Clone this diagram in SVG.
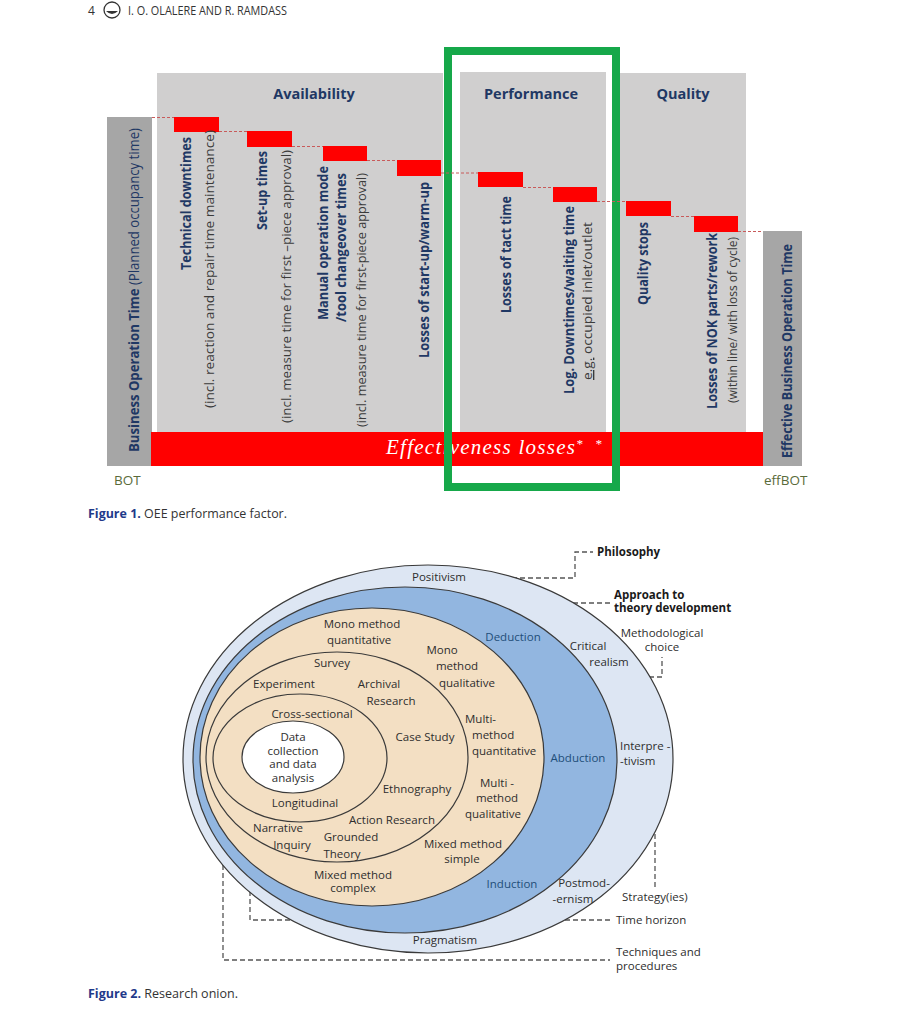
<svg xmlns="http://www.w3.org/2000/svg" width="914" height="1024" viewBox="0 0 914 1024">
<style>
text{font-family:"Open Sans","Liberation Sans",sans-serif;}
.serif{font-family:"Liberation Serif","DejaVu Serif",serif;font-style:italic;fill:#fff;}
.hd{font-size:14.5px;font-weight:700;fill:#1f3864;text-anchor:middle;}
.rb{font-size:14.5px;font-weight:700;fill:#1f3864;}
.rr{font-size:13.5px;fill:#3b3b3b;}
.red{fill:#ff0000;}
.gp{fill:#d0cfcf;}
.gb{fill:#a6a6a6;}
.rdash{fill:none;stroke:#c85a5a;stroke-width:1;stroke-dasharray:3 2;}
.odash{fill:none;stroke:#555;stroke-width:1.3;stroke-dasharray:5 3;}
.on{font-size:11.5px;fill:#2e2e2e;text-anchor:middle;}
.os{font-size:11.5px;fill:#2e2e2e;}
.ob{font-size:11.5px;fill:#1f4e79;text-anchor:middle;}
.obold{font-size:11.5px;fill:#1a1a1a;font-weight:700;}
.ell{stroke:#3a3a3a;stroke-width:1.2;}
.cap{font-size:13px;fill:#333;}
.capb{font-weight:700;fill:#1f3a8a;}
.bot{font-size:13.5px;fill:#5a6b3a;}
</style>

<g id="page-header">
  <text x="88" y="15" font-size="12" fill="#333">4</text>
  <circle cx="112" cy="10" r="8" fill="none" stroke="#333" stroke-width="1.3"/>
  <path d="M106,11 Q112,17 118,11 Z" fill="#333"/>
  <text x="128" y="15" font-size="12" fill="#333" textLength="159" lengthAdjust="spacingAndGlyphs">I. O. OLALERE AND R. RAMDASS</text>
</g>

<g id="figure1">
  <g id="panels">
    <rect class="gp" x="157" y="73" width="286" height="360"/>
    <rect class="gp" x="460" y="72" width="146" height="361"/>
    <rect class="gp" x="620" y="73" width="126" height="360"/>
    <text class="hd" x="314" y="99">Availability</text>
    <text class="hd" x="531" y="99">Performance</text>
    <text class="hd" x="683" y="99">Quality</text>
  </g>
  <g id="bot-bar">
    <rect class="gb" x="107" y="117" width="45" height="349"/>
    <text transform="translate(139,452) rotate(-90)" font-size="14" fill="#1f3864" textLength="324" lengthAdjust="spacingAndGlyphs"><tspan font-weight="700">Business Operation Time</tspan> (Planned occupancy time)</text>
    <text class="bot" x="114" y="485">BOT</text>
  </g>
  <g id="effbot-bar">
    <rect class="gb" x="763" y="231" width="39" height="235"/>
    <text class="rb" transform="translate(792,458) rotate(-90)" font-size="14" textLength="214" lengthAdjust="spacingAndGlyphs">Effective Business Operation Time</text>
    <text class="bot" x="764" y="485">effBOT</text>
  </g>
  <g id="effectiveness-losses">
    <rect class="red" x="151" y="432" width="612" height="34"/>
    <text class="serif" x="386" y="454" font-size="21" textLength="189" lengthAdjust="spacing">Effectiveness losses</text>
    <text class="serif" x="576" y="448" font-size="13">*</text>
    <text class="serif" x="595" y="448" font-size="13">*</text>
  </g>
  <g id="technical-downtimes">
    <rect class="red" x="174" y="117" width="45" height="15"/>
    <text class="rb" transform="translate(191,270) rotate(-90)" textLength="133" lengthAdjust="spacingAndGlyphs">Technical downtimes</text>
    <text class="rr" transform="translate(214,408) rotate(-90)" textLength="278" lengthAdjust="spacingAndGlyphs">(incl. reaction and repair time maintenance)</text>
  </g>
  <g id="setup-times">
    <rect class="red" x="247" y="131" width="45" height="16"/>
    <text class="rb" transform="translate(267,230) rotate(-90)" textLength="79" lengthAdjust="spacingAndGlyphs">Set-up times</text>
    <text class="rr" transform="translate(291,423) rotate(-90)" textLength="273" lengthAdjust="spacingAndGlyphs">(incl. measure time for first –piece approval)</text>
  </g>
  <g id="manual-operation">
    <rect class="red" x="323" y="146" width="44" height="15"/>
    <text class="rb" transform="translate(327.5,320) rotate(-90)" textLength="154" lengthAdjust="spacingAndGlyphs">Manual operation mode</text>
    <text class="rb" transform="translate(346,322) rotate(-90)" textLength="149" lengthAdjust="spacingAndGlyphs">/tool changeover times</text>
    <text class="rr" transform="translate(366,427) rotate(-90)" textLength="254" lengthAdjust="spacingAndGlyphs">(incl. measure time for first-piece approval)</text>
  </g>
  <g id="startup-losses">
    <rect class="red" x="397" y="160" width="44" height="16"/>
    <text class="rb" transform="translate(429,358) rotate(-90)" textLength="176" lengthAdjust="spacingAndGlyphs">Losses of start-up/warm-up</text>
  </g>
  <g id="tact-time">
    <rect class="red" x="478" y="172" width="45" height="15"/>
    <text class="rb" transform="translate(511,313) rotate(-90)" textLength="117" lengthAdjust="spacingAndGlyphs">Losses of tact time</text>
  </g>
  <g id="log-downtimes">
    <rect class="red" x="553" y="187" width="44" height="15"/>
    <text class="rb" transform="translate(574,394) rotate(-90)" textLength="188" lengthAdjust="spacingAndGlyphs">Log. Downtimes/waiting time</text>
    <text class="rr" transform="translate(592,380) rotate(-90)" font-size="13" textLength="158" lengthAdjust="spacingAndGlyphs"><tspan text-decoration="underline">e.g.</tspan> occupied inlet/outlet</text>
  </g>
  <g id="quality-stops">
    <rect class="red" x="626" y="201" width="45" height="15"/>
    <text class="rb" transform="translate(648,305) rotate(-90)" textLength="83" lengthAdjust="spacingAndGlyphs">Quality stops</text>
  </g>
  <g id="nok-parts">
    <rect class="red" x="694" y="216" width="44" height="16"/>
    <text class="rb" transform="translate(717,409) rotate(-90)" textLength="176" lengthAdjust="spacingAndGlyphs">Losses of NOK parts/rework</text>
    <text class="rr" transform="translate(737,403) rotate(-90)" font-size="12.5" textLength="166" lengthAdjust="spacingAndGlyphs">(within line/ with loss of cycle)</text>
  </g>
  <g id="performance-highlight">
    <rect x="448" y="51" width="168" height="436" fill="none" stroke="#16a84a" stroke-width="8"/>
  </g>
  <text x="88" y="518" class="cap" textLength="199" lengthAdjust="spacingAndGlyphs"><tspan class="capb">Figure 1.</tspan>  OEE performance factor.</text>
</g>

<g id="connectors">
  <path class="rdash" d="M152,117.5 H174 M219,131.5 H247 M292,146.5 H323 M367,160.5 H397 M441,173 H478 M523,187.5 H553 M597,201.5 H626 M671,216.5 H694 M738,231.5 H763"/>
  <path class="odash" d="M480,578 H575 V552 H593"/>
  <path class="odash" d="M515,625 V603 H610"/>
  <path class="odash" d="M497,677 H662 V657"/>
  <path class="odash" d="M452,773 H655 V887"/>
  <path class="odash" d="M250,787 V920 H610"/>
  <path class="odash" d="M263,777 H223 V960 H610"/>
</g>

<g id="figure2">
  <g id="philosophy-layer">
    <ellipse class="ell" cx="428" cy="759" rx="245" ry="194" fill="#dde6f3"/>
  </g>
  <g id="approach-layer">
    <ellipse class="ell" cx="405" cy="760" rx="212" ry="173" fill="#92b6e0"/>
  </g>
  <g id="methodological-layer">
    <ellipse class="ell" cx="372" cy="757" rx="172" ry="149" fill="#f3dfc3"/>
  </g>
  <g id="strategy-layer">
    <ellipse class="ell" cx="337" cy="757" rx="131" ry="105" fill="none"/>
  </g>
  <g id="time-horizon-layer">
    <ellipse class="ell" cx="300" cy="758" rx="87" ry="64" fill="none"/>
  </g>
  <g id="core">
    <ellipse class="ell" cx="293" cy="757" rx="51" ry="36" fill="#ffffff"/>
    <text class="on" x="293" y="741">Data</text>
    <text class="on" x="293" y="755">collection</text>
    <text class="on" x="293" y="768">and data</text>
    <text class="on" x="293" y="782">analysis</text>
  </g>
  <g id="philosophy-labels">
    <text class="on" x="439" y="581">Positivism</text>
    <text class="on" x="588" y="650">Critical</text>
    <text class="on" x="609" y="666">realism</text>
    <text class="os" x="620" y="750">Interpre -</text>
    <text class="os" x="620" y="765">-tivism</text>
    <text class="on" x="584" y="887">Postmod-</text>
    <text class="on" x="573" y="903">-ernism</text>
    <text class="on" x="445" y="944">Pragmatism</text>
  </g>
  <g id="approach-labels">
    <text class="ob" x="513" y="641">Deduction</text>
    <text class="ob" x="578" y="762">Abduction</text>
    <text class="ob" x="512" y="888">Induction</text>
  </g>
  <g id="choice-labels">
    <text class="on" x="362" y="628">Mono method</text>
    <text class="on" x="359" y="644">quantitative</text>
    <text class="on" x="442" y="654">Mono</text>
    <text class="on" x="457" y="670">method</text>
    <text class="on" x="467" y="687">qualitative</text>
    <text class="os" x="465" y="723">Multi-</text>
    <text class="os" x="472" y="739">method</text>
    <text class="os" x="472" y="755">quantitative</text>
    <text class="on" x="497" y="787">Multi -</text>
    <text class="on" x="497" y="802">method</text>
    <text class="on" x="493" y="818">qualitative</text>
    <text class="on" x="463" y="848">Mixed method</text>
    <text class="on" x="462" y="863">simple</text>
    <text class="on" x="353" y="879">Mixed method</text>
    <text class="on" x="353" y="892">complex</text>
  </g>
  <g id="strategy-labels">
    <text class="on" x="332" y="667">Survey</text>
    <text class="on" x="284" y="688">Experiment</text>
    <text class="on" x="379" y="688">Archival</text>
    <text class="on" x="391" y="705">Research</text>
    <text class="on" x="425" y="741">Case Study</text>
    <text class="on" x="417" y="793">Ethnography</text>
    <text class="on" x="392" y="824">Action Research</text>
    <text class="on" x="278" y="832">Narrative</text>
    <text class="on" x="292" y="849">Inquiry</text>
    <text class="on" x="351" y="841">Grounded</text>
    <text class="on" x="342" y="858">Theory</text>
  </g>
  <g id="time-horizon-labels">
    <text class="on" x="312" y="718">Cross-sectional</text>
    <text class="on" x="305" y="807">Longitudinal</text>
  </g>
  <g id="legend-labels">
    <text class="obold" x="597" y="556">Philosophy</text>
    <text class="obold" x="614" y="599">Approach to</text>
    <text class="obold" x="614" y="612">theory development</text>
    <text class="on" x="662" y="637">Methodological</text>
    <text class="on" x="662" y="651">choice</text>
    <text class="os" x="622" y="901">Strategy(ies)</text>
    <text class="os" x="616" y="924">Time horizon</text>
    <text class="os" x="616" y="956">Techniques and</text>
    <text class="os" x="616" y="970">procedures</text>
  </g>
  <text x="88" y="998" class="cap" textLength="150" lengthAdjust="spacingAndGlyphs"><tspan class="capb">Figure 2.</tspan>  Research onion.</text>
</g>
</svg>
